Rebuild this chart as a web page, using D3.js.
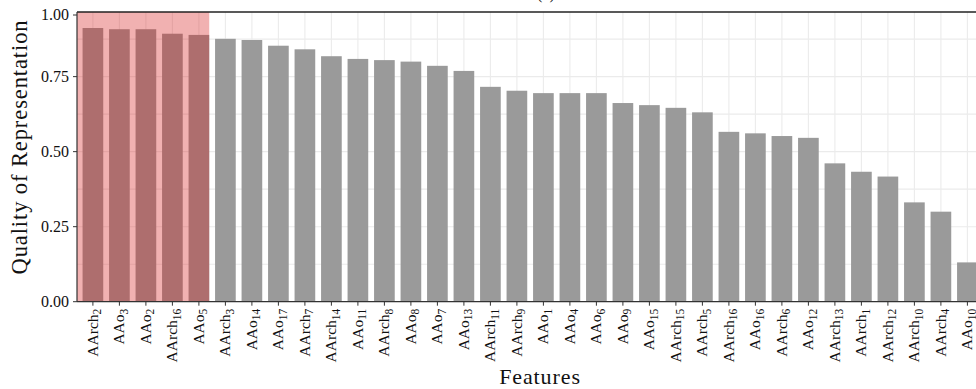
<!DOCTYPE html>
<html>
<head>
<meta charset="utf-8">
<script src="https://cdn.jsdelivr.net/npm/d3@7"></script>
<style>
  body { margin: 0; background: #fff; }
  svg { display: block; font-family: "Liberation Serif", "DejaVu Serif", serif; }
</style>
</head>
<body>
<div id="chart"></div>
<script>
// feature names, "base_subscript"
const features = ['AArch_2', 'AAo_3', 'AAo_2', 'AArch_16', 'AAo_5', 'AArch_3', 'AAo_14', 'AAo_17',
    'AArch_7', 'AArch_14', 'AAo_11', 'AArch_8', 'AAo_8', 'AAo_7', 'AAo_13', 'AArch_11', 'AArch_9',
    'AAo_1', 'AAo_4', 'AAo_6', 'AAo_9', 'AAo_15', 'AArch_15', 'AArch_5', 'AArch_16', 'AAo_16',
    'AArch_6', 'AAo_12', 'AArch_13', 'AArch_1', 'AArch_12', 'AArch_10', 'AArch_4', 'AAo_10'];

const quality = [0.912, 0.908, 0.908, 0.893, 0.889, 0.876, 0.872, 0.853, 0.841, 0.818, 0.809,
    0.805, 0.800, 0.786, 0.769, 0.716, 0.703, 0.695, 0.695, 0.695, 0.662, 0.655, 0.646, 0.631,
    0.566, 0.561, 0.552, 0.546, 0.461, 0.433, 0.417, 0.331, 0.300, 0.131];

const yTicks = [0, 0.25, 0.5, 0.75, 1];
const yMinorTicks = [0.125, 0.375, 0.625, 0.875];
const highlightCount = 5;

const svgWidth = 976,
    svgHeight = 389,
    panelLeft = 77,
    panelRight = 983.3,
    panelTop = 12,
    panelBottom = 301.7;

const svg = d3.select('#chart')
    .append('svg')
    .attr('width', svgWidth)
    .attr('height', svgHeight);

const xScale = d3.scaleBand()
    .domain(d3.range(features.length))
    .range([panelLeft, panelRight])
    .paddingInner(0.22)
    .paddingOuter(0.21);

const yScale = d3.scaleLinear()
    .domain([0, 1])
    .range([panelBottom, 1.6]);

svg.append('clipPath')
    .attr('id', 'panel-clip')
    .append('rect')
    .attr('x', panelLeft)
    .attr('y', panelTop)
    .attr('width', panelRight - panelLeft)
    .attr('height', panelBottom - panelTop);

const panel = svg.append('g').attr('clip-path', 'url(#panel-clip)');

// grid
panel.selectAll('.hgrid')
    .data(yTicks.concat(yMinorTicks))
    .enter()
    .append('line')
    .attr('x1', panelLeft)
    .attr('x2', panelRight)
    .attr('y1', d => yScale(d))
    .attr('y2', d => yScale(d))
    .attr('stroke', '#ebebeb')
    .attr('stroke-width', 1.1);

panel.selectAll('.vgrid')
    .data(d3.range(features.length))
    .enter()
    .append('line')
    .attr('x1', d => xScale(d) + xScale.bandwidth() / 2)
    .attr('x2', d => xScale(d) + xScale.bandwidth() / 2)
    .attr('y1', panelTop)
    .attr('y2', panelBottom)
    .attr('stroke', '#ebebeb')
    .attr('stroke-width', 1.1);

// bars
panel.selectAll('.bar')
    .data(quality)
    .enter()
    .append('rect')
    .attr('class', 'bar')
    .attr('x', (d, i) => xScale(i))
    .attr('y', d => yScale(d))
    .attr('width', xScale.bandwidth())
    .attr('height', d => yScale(0) - yScale(d))
    .attr('fill', '#9a9a9a');

// highlight over the first features
panel.append('rect')
    .attr('x', panelLeft)
    .attr('y', panelTop)
    .attr('width', xScale(highlightCount - 1) + xScale.bandwidth() - panelLeft)
    .attr('height', panelBottom - panelTop)
    .attr('fill', 'rgb(215,25,25)')
    .attr('fill-opacity', 0.34);

// panel borders
svg.append('line')
    .attr('x1', panelLeft).attr('x2', panelRight)
    .attr('y1', panelTop).attr('y2', panelTop)
    .attr('stroke', '#222').attr('stroke-width', 1.3);

svg.append('line')
    .attr('x1', panelLeft).attr('x2', panelLeft)
    .attr('y1', panelTop).attr('y2', panelBottom)
    .attr('stroke', '#333').attr('stroke-width', 1.2);

svg.append('line')
    .attr('x1', panelLeft).attr('x2', panelRight)
    .attr('y1', panelBottom).attr('y2', panelBottom)
    .attr('stroke', '#333').attr('stroke-width', 1.2);

// y axis
const yAxis = d3.axisLeft(yScale)
    .tickValues(yTicks)
    .tickSize(4)
    .tickSizeOuter(0)
    .tickPadding(4)
    .tickFormat(d3.format('.2f'));

const yAxisG = svg.append('g')
    .attr('id', 'y-axis')
    .attr('transform', `translate(${panelLeft}, 0)`)
    .call(yAxis)
    .attr('font-family', null)
    .attr('font-size', 16);

yAxisG.select('.domain').remove();
yAxisG.selectAll('.tick line').attr('stroke', '#333');
yAxisG.selectAll('.tick text').attr('fill', '#111');
// top tick sits above the visible panel, keep its label on the edge
yAxisG.selectAll('.tick')
    .attr('transform', d => `translate(0, ${Math.max(yScale(d), panelTop + 3)})`);

// x axis
const xAxis = d3.axisBottom(xScale)
    .tickSize(4)
    .tickSizeOuter(0);

const xAxisG = svg.append('g')
    .attr('id', 'x-axis')
    .attr('transform', `translate(0, ${panelBottom})`)
    .call(xAxis)
    .attr('font-family', null)
    .attr('font-size', 15.5);

xAxisG.select('.domain').remove();
xAxisG.selectAll('.tick line').attr('stroke', '#333');
xAxisG.selectAll('.tick text').each(function(i) {
    const [base, sub] = features[i].split('_');
    const t = d3.select(this)
        .text(null)
        .attr('fill', '#111')
        .attr('transform', 'rotate(-90)')
        .attr('text-anchor', 'end')
        .attr('x', -7)
        .attr('y', 0)
        .attr('dy', '0.3em');
    t.append('tspan').text(base);
    t.append('tspan')
        .attr('font-size', 11.5)
        .attr('dy', '0.3em')
        .text(sub);
});

// titles
svg.append('text')
    .attr('transform', 'translate(27, 147) rotate(-90)')
    .attr('text-anchor', 'middle')
    .attr('font-size', 22.5)
    .attr('letter-spacing', 0.9)
    .attr('fill', '#111')
    .text('Quality of Representation');

svg.append('text')
    .attr('x', 540)
    .attr('y', 384)
    .attr('text-anchor', 'middle')
    .attr('font-size', 22)
    .attr('letter-spacing', 0.9)
    .attr('fill', '#111')
    .text('Features');

svg.append('text')
    .attr('x', 546)
    .attr('y', -1)
    .attr('text-anchor', 'middle')
    .attr('font-size', 16)
    .attr('fill', '#111')
    .text('(a)');
</script>
</body>
</html>
